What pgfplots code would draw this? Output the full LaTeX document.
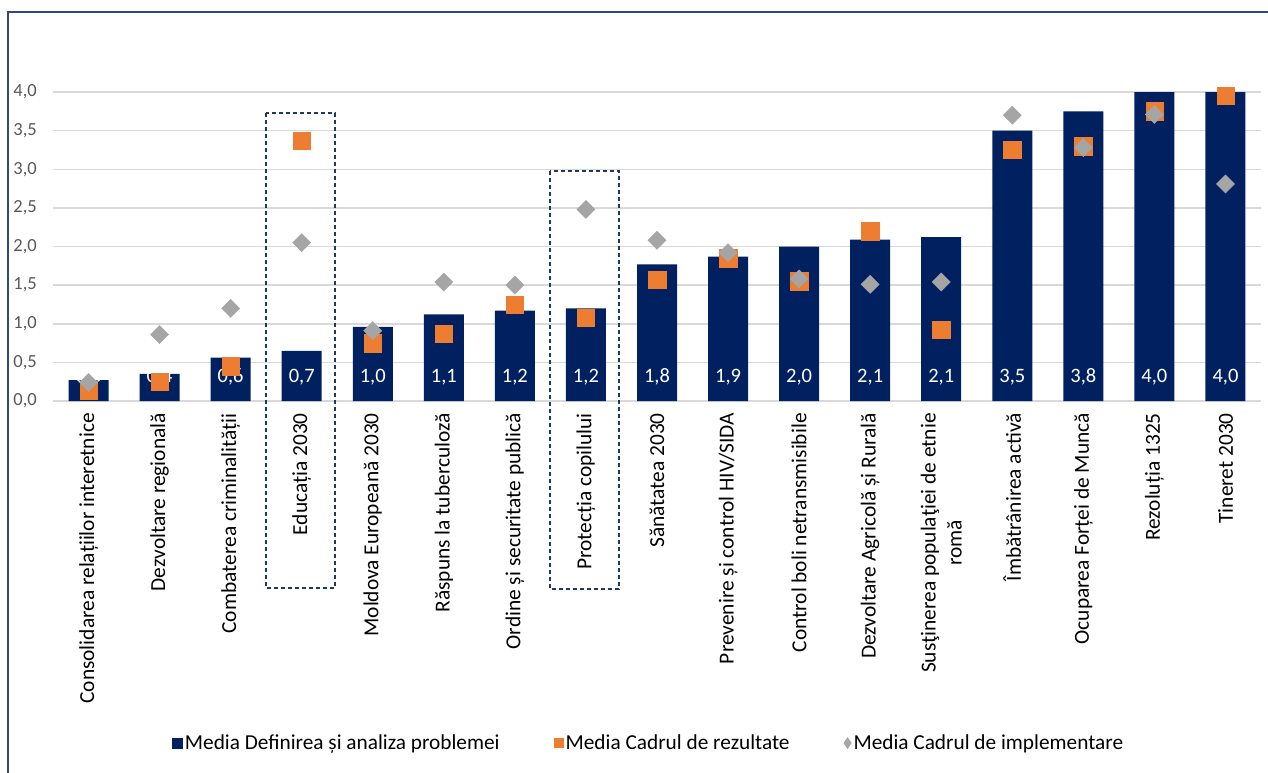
\documentclass[border=0pt]{standalone}
\usepackage{fontspec}
\setmainfont{Carlito}
\usepackage{pgfplots}
\usepackage{pgfplotstable}
\pgfplotsset{compat=1.18}
\definecolor{navy}{HTML}{002060}
\definecolor{orng}{HTML}{ED7D31}
\definecolor{gry}{HTML}{A5A5A5}
\definecolor{tickgray}{HTML}{595959}
\definecolor{gridgray}{HTML}{D9D9D9}
\definecolor{framec}{HTML}{2F4B7C}
\definecolor{boxc}{HTML}{1F3864}

\pgfplotstableread{
i bar res impl lbl
0 0.27 0.14 0.24 0,3
1 0.35 0.25 0.86 0,4
2 0.56 0.45 1.20 0,6
3 0.65 3.37 2.05 0,7
4 0.96 0.75 0.91 1,0
5 1.12 0.87 1.54 1,1
6 1.17 1.25 1.50 1,2
7 1.20 1.08 2.48 1,2
8 1.77 1.57 2.08 1,8
9 1.87 1.85 1.92 1,9
10 2.00 1.55 1.58 2,0
11 2.09 2.20 1.51 2,1
12 2.12 0.92 1.54 2,1
13 3.50 3.25 3.70 3,5
14 3.75 3.30 3.28 3,8
15 4.00 3.75 3.71 4,0
16 4.00 3.95 2.81 4,0
}\data

\begin{document}
\begin{tikzpicture}
\useasboundingbox (0,0) rectangle (1268pt,772pt);
\draw[framec, line width=1.5pt] (8pt,-2pt) -- (8pt,760pt) -- (1270pt,760pt);
\begin{axis}[
  at={(53pt,371pt)}, anchor=south west,
  scale only axis, width=1208pt, height=309pt,
  xmin=-0.5, xmax=16.5, ymin=0, ymax=4,
  clip=false,
  axis line style={draw=none},
  major tick length=0pt,
  ytick={0,0.5,1,1.5,2,2.5,3,3.5,4},
  ymajorgrids,
  grid style={gridgray, line width=1.5pt},
  /pgf/number format/assume math mode=true,
  yticklabel={\pgfmathprintnumber[fixed, fixed zerofill, precision=1, use comma]{\tick}},
  yticklabel style={text=tickgray, font=\fontsize{18.5}{20}\selectfont, anchor=east, inner sep=0pt, xshift=-16pt},
  xtick={0,...,16},
  xticklabels={Consolidarea relațiilor interetnice, Dezvoltare regională, Combaterea criminalității, Educația 2030, Moldova Europeană 2030, Răspuns la tuberculoză, Ordine și securitate publică, Protecția copilului, Sănătatea 2030, Prevenire și control HIV/SIDA, Control boli netransmisibile, Dezvoltare Agricolă și Rurală, {Susţinerea populaţiei de etnie\\romă}, Îmbătrânirea activă, Ocuparea Forței de Muncă, Rezoluția 1325, Tineret 2030},
  xticklabel style={rotate=90, anchor=east, inner sep=0pt, align=center, font=\fontsize{21.4}{26}\selectfont, text=black},
  xticklabel shift=12pt,
  legend style={at={(0.493,-1.107)}, anchor=center, draw=none, legend columns=3,
    font=\fontsize{21.3}{25}\selectfont, nodes={inner sep=2pt},
    /tikz/every even column/.append style={column sep=52pt}},
  legend cell align=left,
]
\addplot[ybar, bar width=40pt, fill=navy, draw=none,
  legend image code/.code={\fill[navy] (0pt,-5.5pt) rectangle (11pt,5.5pt);}]
  table[x=i, y=bar]{\data};
\addlegendentry{Media Definirea și analiza problemei}
\addplot[forget plot, only marks, mark=*, mark size=0pt, mark options={draw=none, fill=none},
  point meta=explicit symbolic, nodes near coords,
  every node near coord/.append style={anchor=center, yshift=24pt, text=white, inner sep=0pt, font=\fontsize{20.5}{22}\selectfont}]
  table[x=i, y expr=0, meta=lbl]{\data};
\addplot[only marks, color=orng, draw=none, mark=square*, mark size=8.7pt, mark options={draw=none, fill=orng},
  legend image code/.code={\fill[orng] (0pt,-5pt) rectangle (10pt,5pt);}]
  table[x=i, y=res]{\data};
\addlegendentry{Media Cadrul de rezultate}
\addplot[only marks, color=gry, draw=none, mark=square*, mark size=6.4pt, mark options={rotate=45, draw=none, fill=gry},
  legend image code/.code={\fill[gry] (4pt,-6pt) -- (8pt,0pt) -- (4pt,6pt) -- (0pt,0pt) -- cycle;}]
  table[x=i, y=impl]{\data};
\addlegendentry{Media Cadrul de implementare}
\draw[boxc, line width=1.3pt, dash pattern=on 4pt off 3pt] (axis cs:2.497,3.728) rectangle (axis cs:3.468,-2.42);
\draw[boxc, line width=1.3pt, dash pattern=on 4pt off 3pt] (axis cs:6.494,2.977) rectangle (axis cs:7.465,-2.434);
\end{axis}
\end{tikzpicture}
\end{document}
